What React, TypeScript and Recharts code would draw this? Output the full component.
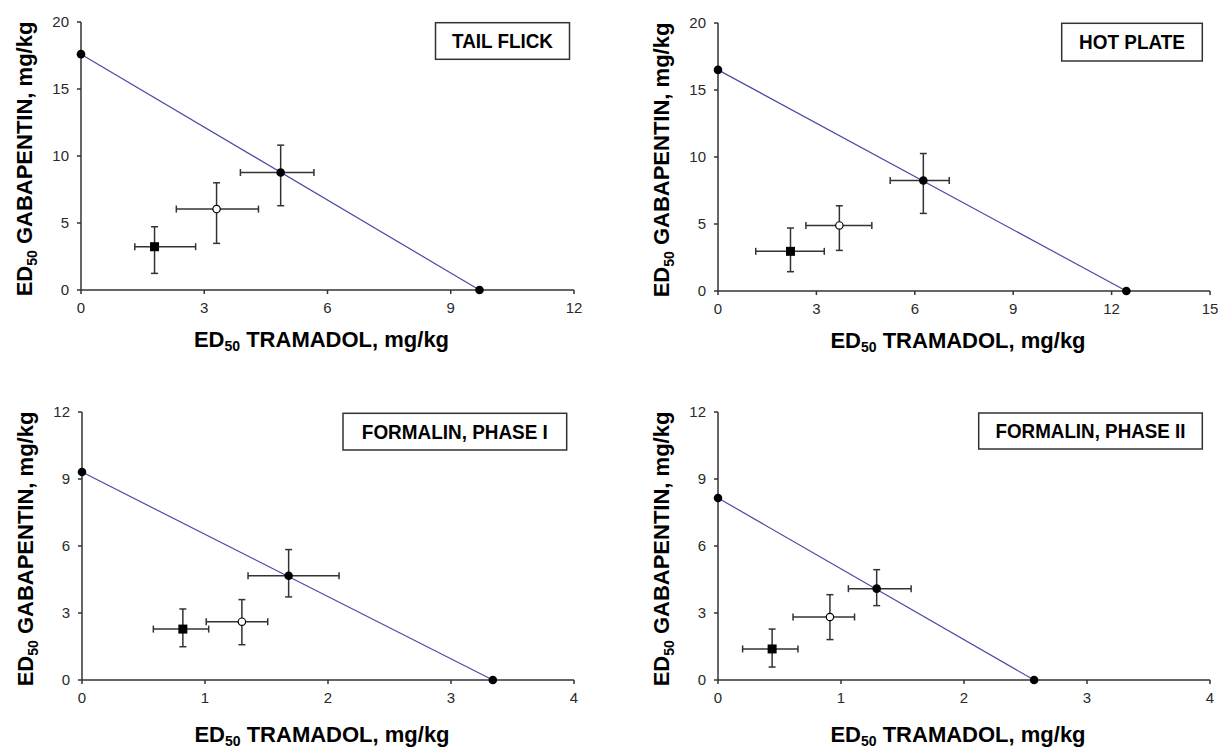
import React from 'react';
import { ScatterChart, Scatter, XAxis, YAxis, ErrorBar, Label } from 'recharts';

// one entry per panel: tail flick, hot plate, formalin phase I, formalin phase II
const tests = ['TAIL FLICK', 'HOT PLATE', 'FORMALIN, PHASE I', 'FORMALIN, PHASE II'];
const xTicks = [[0, 3, 6, 9, 12], [0, 3, 6, 9, 12, 15], [0, 1, 2, 3, 4], [0, 1, 2, 3, 4]];
const yTicks = [[0, 5, 10, 15, 20], [0, 5, 10, 15, 20], [0, 3, 6, 9, 12], [0, 3, 6, 9, 12]];

// ED50 of each drug given alone (isobole end points)
const tramadolAlone = [9.7, 12.45, 3.34, 2.57];
const gabapentinAlone = [17.6, 16.5, 9.31, 8.15];

// theoretical additive point (filled circle)
const addX = [4.86, 6.26, 1.68, 1.29];
const addXLo = [3.88, 5.25, 1.35, 1.06];
const addXHi = [5.67, 7.05, 2.09, 1.57];
const addY = [8.77, 8.25, 4.67, 4.09];
const addYLo = [6.29, 5.79, 3.72, 3.33];
const addYHi = [10.81, 10.26, 5.84, 4.94];

// experimental combination (open circle)
const openX = [3.3, 3.7, 1.3, 0.91];
const openXLo = [2.32, 2.68, 1.01, 0.61];
const openXHi = [4.32, 4.69, 1.51, 1.11];
const openY = [6.04, 4.89, 2.61, 2.82];
const openYLo = [3.48, 3.03, 1.58, 1.81];
const openYHi = [8.0, 6.36, 3.6, 3.82];

// experimental combination (filled square)
const sqX = [1.79, 2.21, 0.82, 0.44];
const sqXLo = [1.31, 1.15, 0.58, 0.2];
const sqXHi = [2.79, 3.24, 1.03, 0.65];
const sqY = [3.23, 2.96, 2.28, 1.39];
const sqYLo = [1.24, 1.44, 1.49, 0.58];
const sqYHi = [4.72, 4.7, 3.18, 2.28];

const FONT = '"Liberation Sans", Arial, Helvetica, sans-serif';
const W = 609;
const H = 374;

const layout = [
  { left: 0, top: 0, margin: { top: 22, right: 35, bottom: 54, left: 21 }, xLab: 57,
    box: { x: 435.5, y: 22.7, w: 134, h: 36.6, tw: 101, base: 48 } },
  { left: 609, top: 0, margin: { top: 23, right: 8, bottom: 53, left: 49 }, xLab: 57,
    box: { x: 1061.7, y: 23.3, w: 140.6, h: 37.7, tw: 106, base: 49 } },
  { left: 0, top: 375, margin: { top: 37, right: 35, bottom: 39, left: 22 }, xLab: 62,
    box: { x: 343, y: 413.3, w: 223.7, h: 36.7, tw: 186, base: 438.5 } },
  { left: 609, top: 375, margin: { top: 37, right: 8, bottom: 39, left: 49 }, xLab: 62,
    box: { x: 978.7, y: 413, w: 223.6, h: 36, tw: 190, base: 438 } },
];

const withBars = (x: number[], xlo: number[], xhi: number[], y: number[], ylo: number[], yhi: number[], i: number) => [
  { x: x[i], y: y[i], ex: [x[i] - xlo[i], xhi[i] - x[i]], ey: [y[i] - ylo[i], yhi[i] - y[i]] },
];

const Dot = (p: any) => <circle cx={p.cx} cy={p.cy} r={4.3} fill="#000" />;
const Open = (p: any) => <circle cx={p.cx} cy={p.cy} r={3.7} fill="#fff" stroke="#000" strokeWidth={1.2} />;
const Square = (p: any) => <rect x={p.cx - 4.5} y={p.cy - 4.5} width={9} height={9} fill="#000" />;

const tick = { fill: '#2a2a2a', fontSize: 15, fontFamily: FONT };
const axisLine = { stroke: '#333', strokeWidth: 1.5 };

const xLabel = (gap: number) => (props: any) => {
  const { x, y, width } = props.viewBox;
  return (
    <text x={x + width / 2 - 6} y={y + gap} textAnchor="middle" fontFamily={FONT} fontWeight="bold" fontSize={22} fill="#000">
      <tspan>ED</tspan>
      <tspan fontSize={14} dy={4}>50</tspan>
      <tspan dy={-4}> TRAMADOL, mg/kg</tspan>
    </text>
  );
};

const yLabel = (props: any) => {
  const { x, y, height } = props.viewBox;
  const bx = x + 11;
  const cy = y + height / 2 + 3;
  return (
    <text x={bx} y={cy} transform={`rotate(-90, ${bx}, ${cy})`} textAnchor="middle" fontFamily={FONT} fontWeight="bold" fontSize={22} fill="#000">
      <tspan>ED</tspan>
      <tspan fontSize={14} dy={5}>50</tspan>
      <tspan dy={-5}>{'  GABAPENTIN, mg/kg'}</tspan>
    </text>
  );
};

function Panel({ i }: { i: number }) {
  const L = layout[i];
  const xt = xTicks[i];
  const yt = yTicks[i];
  const iso = [{ x: 0, y: gabapentinAlone[i] }, { x: tramadolAlone[i], y: 0 }];
  return (
    <div style={{ position: 'absolute', left: L.left, top: L.top }}>
      <ScatterChart width={W} height={H} margin={L.margin}>
        <XAxis type="number" dataKey="x" domain={[xt[0], xt[xt.length - 1]]} ticks={xt} interval={0}
          tick={tick} tickSize={4} tickMargin={8} axisLine={axisLine} tickLine={axisLine} height={30}>
          <Label content={xLabel(L.xLab)} />
        </XAxis>
        <YAxis type="number" dataKey="y" domain={[yt[0], yt[yt.length - 1]]} ticks={yt} interval={0}
          tick={tick} tickSize={4} tickMargin={8} axisLine={axisLine} tickLine={axisLine} width={60}>
          <Label content={yLabel} />
        </YAxis>
        <Scatter data={iso} shape={Dot} line={{ stroke: '#4a4aa8', strokeWidth: 1.2 }} isAnimationActive={false} />
        <Scatter data={withBars(addX, addXLo, addXHi, addY, addYLo, addYHi, i)} shape={Dot} isAnimationActive={false}>
          <ErrorBar dataKey="ex" direction="x" width={3.5} stroke="#333" strokeWidth={1.5} />
          <ErrorBar dataKey="ey" direction="y" width={3.5} stroke="#333" strokeWidth={1.5} />
        </Scatter>
        <Scatter data={withBars(openX, openXLo, openXHi, openY, openYLo, openYHi, i)} shape={Open} isAnimationActive={false}>
          <ErrorBar dataKey="ex" direction="x" width={3.5} stroke="#333" strokeWidth={1.5} />
          <ErrorBar dataKey="ey" direction="y" width={3.5} stroke="#333" strokeWidth={1.5} />
        </Scatter>
        <Scatter data={withBars(sqX, sqXLo, sqXHi, sqY, sqYLo, sqYHi, i)} shape={Square} isAnimationActive={false}>
          <ErrorBar dataKey="ex" direction="x" width={3.5} stroke="#333" strokeWidth={1.5} />
          <ErrorBar dataKey="ey" direction="y" width={3.5} stroke="#333" strokeWidth={1.5} />
        </Scatter>
      </ScatterChart>
    </div>
  );
}

export default function App() {
  return (
    <div style={{ position: 'absolute', left: 0, top: 0, width: 1219, height: 749, background: '#fff', overflow: 'hidden' }}>
      {tests.map((_, i) => <Panel key={i} i={i} />)}
      <svg width={1219} height={749} style={{ position: 'absolute', left: 0, top: 0, pointerEvents: 'none' }}>
        {tests.map((name, i) => {
          const b = layout[i].box;
          return (
            <g key={name}>
              <rect x={b.x} y={b.y} width={b.w} height={b.h} fill="#fff" stroke="#333" strokeWidth={1.5} />
              <text x={b.x + b.w / 2} y={b.base} textAnchor="middle" fontFamily={FONT} fontWeight="bold" fontSize={20}
                textLength={b.tw} lengthAdjust="spacingAndGlyphs" fill="#000">{name}</text>
            </g>
          );
        })}
      </svg>
    </div>
  );
}
